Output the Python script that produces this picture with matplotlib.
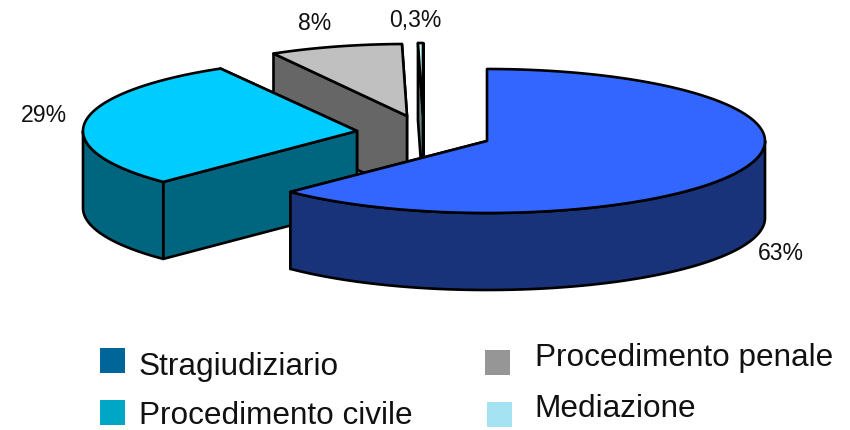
import numpy as np
import matplotlib
matplotlib.use("Agg")
import matplotlib.pyplot as plt
from matplotlib.patches import Polygon, Rectangle

plt.rcParams['font.family'] = ['Liberation Sans', 'DejaVu Sans']

# data
categories = ["Stragiudiziario", "Procedimento civile", "Procedimento penale", "Mediazione"]
values = [62.5, 29.2, 8, 0.3]
value_labels = ["63%", "29%", "8%", "0,3%"]
swatch_colors = ["#006699", "#00A6C6", "#969696", "#A6E3F2"]

# style
top_colors = ["#3366FF", "#00CCFF", "#C0C0C0", "#CCFFFF"]
side_colors = ["#19337A", "#006680", "#666666", "#668080"]

# layout (pixels)
RXS = [278, 274, 268, 268]
RY, DEPTH = 72, 77
APEX = [(487, 141), (357, 131), (407, 116), (423, 115)]
LABEL_XY = [(781, 253), (44, 116), (315, 24), (415, 20)]
SW_XY = [(100, 348), (100, 400), (485, 350), (487, 402)]
TXT_XY = [(139, 367), (139, 416), (535, 358), (534, 409)]
SW_SIZE = 25

fig = plt.figure(figsize=(8.5, 4.3), dpi=100)
ax = fig.add_axes([0, 0, 1, 1])
ax.set_xlim(0, 850)
ax.set_ylim(430, 0)
ax.axis("off")

fracs = np.array(values) / sum(values)
ends = np.cumsum(fracs) * 2 * np.pi
starts = ends - fracs * 2 * np.pi

def arc(i, a0, a1):
    t = np.linspace(a0, a1, max(int(abs(a1 - a0) * 60), 2))
    return np.column_stack([APEX[i][0] + RXS[i] * np.sin(t), APEX[i][1] - RY * np.cos(t)])

LW = 1.9
kw = dict(edgecolor="black", linewidth=LW, joinstyle="round")
# back to front: smallest slices first, the largest last
for i in [3, 2, 1, 0]:
    a0, a1 = starts[i], ends[i]
    apex = np.array(APEX[i], float)
    down = np.array([0, DEPTH])
    # radial side walls
    for a in (a1, a0):
        e = arc(i, a, a)[0]
        ax.add_patch(Polygon([apex, e, e + down, apex + down], closed=True, facecolor=side_colors[i], **kw))
    # outer rim: the part of the arc that faces the viewer
    lo, hi = max(a0, np.pi / 2), min(a1, 3 * np.pi / 2)
    if hi > lo:
        r = arc(i, lo, hi)
        ax.add_patch(Polygon(np.vstack([r, (r + down)[::-1]]), closed=True, facecolor=side_colors[i], **kw))
    # top face
    ax.add_patch(Polygon(np.vstack([apex, arc(i, a0, a1)]), closed=True, facecolor=top_colors[i], **kw))

for (x, y), s in zip(LABEL_XY, value_labels):
    ax.text(x, y, s, fontsize=16.6, ha="center", va="center", color="#111111")

for (x, y), c in zip(SW_XY, swatch_colors):
    ax.add_patch(Rectangle((x, y), SW_SIZE, SW_SIZE, facecolor=c, edgecolor="none"))
for (x, y), s in zip(TXT_XY, categories):
    ax.text(x, y, s, fontsize=22.7, ha="left", va="center", color="#111111")

fig.savefig("out.png", dpi=100)
